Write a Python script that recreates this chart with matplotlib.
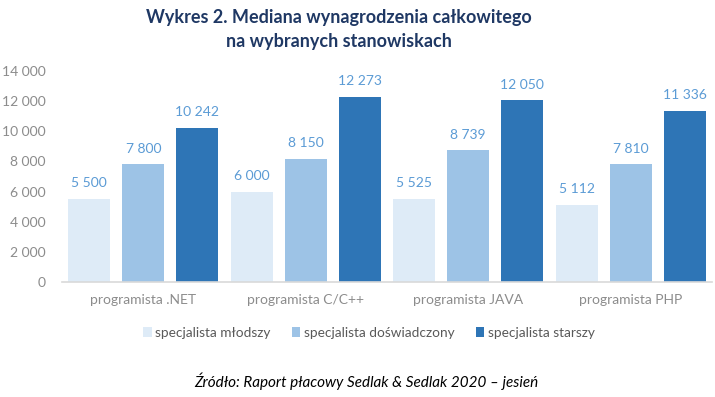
import matplotlib
matplotlib.use("Agg")
import matplotlib.pyplot as plt
import numpy as np

categories = ["programista .NET", "programista C/C++", "programista JAVA", "programista PHP"]
series_names = ["specjalista młodszy", "specjalista doświadczony", "specjalista starszy"]
mlodszy = [5500, 6000, 5525, 5112]
doswiadczony = [7800, 8150, 8739, 7810]
starszy = [10242, 12273, 12050, 11336]
yticks = [0, 2000, 4000, 6000, 8000, 10000, 12000, 14000]

colors = ["#DEEBF7", "#9DC3E6", "#2E75B6"]
label_color = "#5B9BD5"
grey = "#8C8C8C"

plt.rcParams["font.family"] = ["Lato", "DejaVu Sans"]

fig = plt.figure(figsize=(7.15, 3.97), dpi=100)
ax = fig.add_axes([62/715, 1-282/397, (712-62)/715, (282-71)/397])

x = np.arange(len(categories))
width = 0.26
offset = 0.333
data = [mlodszy, doswiadczony, starszy]
for i, (vals, name, c) in enumerate(zip(data, series_names, colors)):
    pos = x + (i - 1) * offset
    bars = ax.bar(pos, vals, width, color=c, label=name)
    for xx, v in zip(pos, vals):
        ax.annotate(f"{v:,}".replace(",", " "), (xx, v), xytext=(0, 7),
                    textcoords="offset points", ha="center", va="bottom",
                    fontsize=10, color=label_color)

ax.set_xlim(-0.5, len(categories) - 0.5)
ax.set_ylim(0, 14000)
ax.set_yticks(yticks)
ax.set_yticklabels([f"{t:,}".replace(",", " ") for t in yticks], fontsize=10, color=grey)
ax.set_xticks(x)
ax.set_xticklabels(categories, fontsize=10, color=grey)
ax.tick_params(axis="both", length=0)
ax.tick_params(axis="y", pad=12)
ax.tick_params(axis="x", pad=9)
for s in ["top", "right", "left"]:
    ax.spines[s].set_visible(False)
ax.spines["bottom"].set_color("#D9D9D9")
ax.spines["bottom"].set_linewidth(1.2)

fig.text(339/715, 1-17/397, "Wykres 2. Mediana wynagrodzenia całkowitego",
         ha="center", va="center", fontsize=13, fontweight="bold", color="#1F3864")
fig.text(339/715, 1-42/397, "na wybranych stanowiskach",
         ha="center", va="center", fontsize=13, fontweight="bold", color="#1F3864")

leg = fig.legend(loc="center", bbox_to_anchor=(369/715, 1-333/397), ncol=3,
                 frameon=False, fontsize=9.8, handlelength=0.6, handleheight=0.7,
                 handletextpad=0.25, columnspacing=1.6)
for t in leg.get_texts():
    t.set_color("#595959")

fig.text(366/715, 1-381/397, "Źródło: Raport płacowy Sedlak & Sedlak 2020 – jesień",
         ha="center", va="center", fontsize=11, style="italic", color="#000000")

fig.savefig("out.png", dpi=100)
